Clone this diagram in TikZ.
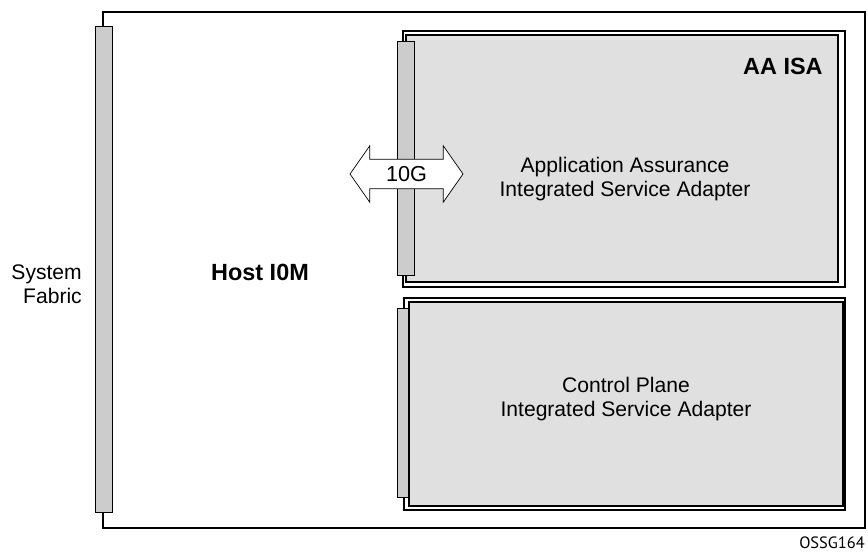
\documentclass[tikz,border=0pt]{standalone}
\usepackage{fontspec}
\setmainfont{Liberation Sans}
\newfontfamily\tagfont{PT Sans}
\usepackage{tikz}
\usetikzlibrary{positioning, shapes.arrows}
\definecolor{cardgray}{HTML}{E0E0E0}
\definecolor{bargray}{HTML}{CCCCCC}
\tikzstyle{host} = [rectangle, minimum width=22.86cm, minimum height=15.48cm, draw=black, line width=1.6pt, inner sep=0]
\tikzstyle{bar} = [rectangle, draw=black, fill=bargray, line width=0.6pt, inner sep=0]
\tikzstyle{cardback} = [rectangle, draw=black, fill=white, line width=1.5pt, inner sep=0]
\tikzstyle{card} = [rectangle, draw=black, fill=cardgray, line width=1.5pt, inner sep=0]
\tikzstyle{txt} = [font=\fontsize{18}{20.5}\selectfont, text centered, align=center]
\tikzstyle{btxt} = [font=\fontsize{20}{22}\selectfont\bfseries]
\tikzstyle{link} = [double arrow, draw=black, fill=white, line width=0.6pt, font=\fontsize{18.5}{20.5}\selectfont, double arrow head extend=0.405cm, double arrow tip angle=110, minimum height=3.39cm, text height=13pt, text depth=0pt, inner ysep=5.85pt]

\begin{document}
\begin{tikzpicture}
    \useasboundingbox (0,0) rectangle (26.04,16.65);

    \node (hostbox) [host] at (14.52,8.55) {};
    \node (fabric) [bar, minimum width=0.51cm, minimum height=14.58cm] at (3.105,8.58) {};
    \node (fabrictxt) [txt, align=right, anchor=east, inner sep=0] at (2.46,8.13) {System\\Fabric};
    \node (hosttxt) [btxt] at (7.8,8.49) {Host I0M};

    \node (aaback) [cardback, minimum width=13.26cm, minimum height=7.68cm] at (18.72,11.88) {};
    \node (aacard) [card, minimum width=12.96cm, minimum height=7.41cm] at (18.66,11.895) {};
    \node (aabar) [bar, minimum width=0.51cm, minimum height=7.02cm] at (12.165,11.91) {};
    \node (aaname) [btxt, inner sep=0, below left=0.82cm and 0.69cm of aaback.north east, anchor=north east] {AA ISA};
    \node (aatxt) [txt] at (18.75,11.28) {Application Assurance\\Integrated Service Adapter};

    \node (link10g) [link] at (12.195,11.43) {10G};

    \node (cpback) [cardback, minimum width=13.23cm, minimum height=6.36cm] at (18.735,4.53) {};
    \node (cpbar) [bar, minimum width=0.36cm, minimum height=5.67cm] at (12.09,4.575) {};
    \node (cpcard) [card, minimum width=13.02cm, minimum height=6.12cm] at (18.78,4.53) {};
    \node (cptxt) [txt] at (18.78,4.68) {Control Plane\\Integrated Service Adapter};

    \node (figtag) [font=\tagfont\fontsize{14}{16}\selectfont] at (24.96,0.36) {OSSG164};

\end{tikzpicture}
\end{document}
